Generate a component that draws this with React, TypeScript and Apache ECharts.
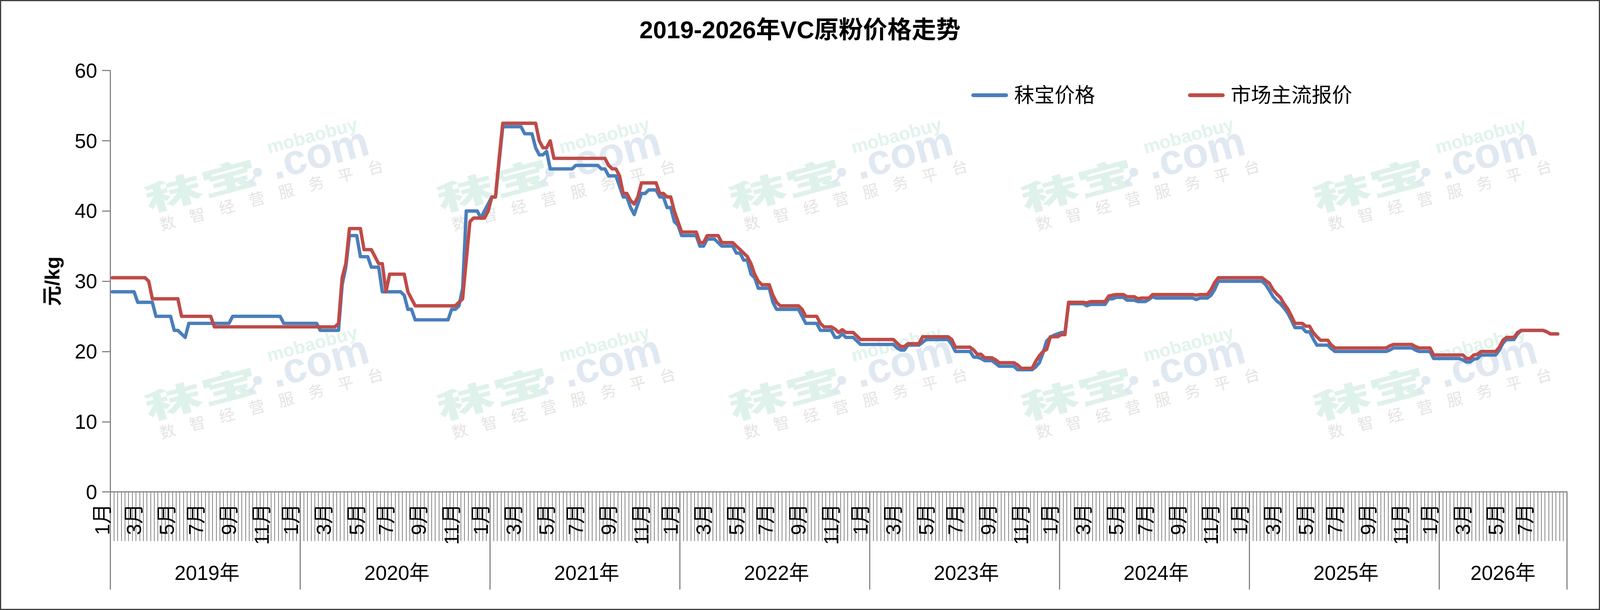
import React, { useEffect, useRef } from 'react';
import * as echarts from 'echarts';

// ---------- data (weekly) ----------
const years = ['2019年', '2020年', '2021年', '2022年', '2023年', '2024年', '2025年', '2026年'];
const weeksPerYear = [52, 52, 52, 52, 52, 52, 52, 35];
const monthLabelWeeks = [6, 15, 23, 32, 41];
const monthLabelNames = ['3月', '5月', '7月', '9月', '11月'];
const janLabelWeek = 49; // "1月" of the following year is shown at this week of the previous year
const janLabel = '1月';
const seriesNames = ['秣宝价格', '市场主流报价'];

const blue2019 = [28.5, 28.5, 28.5, 28.5, 28.5, 28.5, 28.5, 27, 27, 27, 27, 27, 25, 25, 25, 25, 25, 23, 23, 22.5, 22,
  24, 24, 24, 24, 24, 24, 24, 24, 24, 24, 24, 24,
  25, 25, 25, 25, 25, 25, 25, 25, 25, 25, 25, 25, 25, 25,
  24, 24, 24, 24, 24];
const blue2020 = [24, 24, 24, 24, 24, 23, 23, 23, 23, 23, 23, 29.5, 32, 36.5, 36.5, 36.5, 33.5, 33.5, 33.5, 32, 32, 32,
  28.5, 28.5, 28.5, 28.5, 28.5, 28.5, 28, 26, 26,
  24.5, 24.5, 24.5, 24.5, 24.5, 24.5, 24.5, 24.5, 24.5, 24.5,
  26, 26, 26.5, 29, 40, 40, 40, 40, 39, 40, 41];
const blue2021 = [42, 42, 47, 52, 52, 52, 52, 52, 52, 51, 51, 51, 49, 48, 48, 48.5,
  46, 46, 46, 46, 46, 46, 46, 46.5, 46.5, 46.5, 46.5, 46.5, 46.5, 46.5, 46, 46, 45, 45, 45, 43.5, 42, 42,
  40.5, 39.5, 41, 42.5, 42.5, 43, 43, 43, 42, 42, 40.5, 40.5, 38.5, 38];
const blue2022 = [36.5, 36.5, 36.5, 36.5, 36.5, 35, 35, 36, 36, 36, 35.5, 35, 35, 35, 35, 34, 34, 33, 33, 31, 30.5,
  29, 29, 29, 29, 27, 26, 26, 26, 26, 26, 26, 26, 25, 24, 24, 24, 24, 23, 23, 23, 23,
  22, 22, 22.5, 22, 22, 22, 21.5, 21, 21, 21];
const blue2023 = [21, 21, 21, 21, 21, 21, 21, 20.5, 20.2, 20.2, 20.9, 20.9, 20.9, 20.9, 21.3,
  21.7, 21.7, 21.7, 21.7, 21.7, 21.7, 21.7, 21, 20, 20, 20, 20, 20, 19.2, 19.2, 19, 18.7, 18.7, 18.7, 18.3,
  17.9, 17.9, 17.9, 17.9, 17.9, 17.4, 17.4, 17.4, 17.4, 17.4, 17.8, 18.4, 19.8, 21.5, 22, 22.3, 22.5];
const blue2024 = [22.7, 22.7, 26.8, 26.8, 26.8, 26.8, 26.8, 26.5, 26.7, 26.7, 26.7, 26.7, 26.7, 27.5, 27.5,
  27.7, 27.7, 27.7, 27.3, 27.3, 27.3, 27.1, 27.1, 27.1, 27.4, 27.8,
  27.6, 27.6, 27.6, 27.6, 27.6, 27.6, 27.6, 27.6, 27.6, 27.6, 27.6, 27.4, 27.6, 27.6, 27.6, 28, 28.8,
  30, 30, 30, 30, 30, 30, 30, 30, 30];
const blue2025 = [30, 30, 30, 30, 29.5, 28.7, 27.8, 27.2, 26.8, 26.2, 25.5, 24.5, 23.4, 23.4, 23.4, 22.8, 22.8, 21.8,
  20.9, 20.9, 20.9, 20.9, 20.4,
  20, 20, 20, 20, 20, 20, 20, 20, 20, 20, 20, 20, 20, 20, 20,
  20.2, 20.5, 20.5, 20.5, 20.5, 20.5, 20.5, 20.2, 20, 20, 20, 20, 19, 19];
const blue2026 = [19, 19, 19, 19, 19, 19, 18.8, 18.5, 18.5, 18.9, 19, 19.5, 19.5, 19.5, 19.5, 19.5, 20.2, 21.2,
  21.7, 21.7, 21.7, 22.5, 23, 23, 23, 23, 23, 23, 23, 22.8, 22.5, 22.5, 22.5, null, null];

const red2019 = [30.5, 30.5, 30.5, 30.5, 30.5, 30.5, 30.5, 30.5, 30.5, 30.5, 30,
  27.5, 27.5, 27.5, 27.5, 27.5, 27.5, 27.5, 27.5,
  25, 25, 25, 25, 25, 25, 25, 25, 25,
  23.5, 23.5, 23.5, 23.5, 23.5, 23.5, 23.5, 23.5, 23.5, 23.5, 23.5, 23.5,
  23.5, 23.5, 23.5, 23.5, 23.5, 23.5, 23.5, 23.5, 23.5, 23.5, 23.5, 23.5];
const red2020 = [23.5, 23.5, 23.5, 23.5, 23.5, 23.5, 23.5, 23.5, 23.5, 23.5, 24, 30.5, 32.5,
  37.5, 37.5, 37.5, 37.5, 34.5, 34.5, 34.5, 33.5, 32.5, 32.5, 28.5, 31, 31, 31, 31, 31, 28.5, 27.5,
  26.5, 26.5, 26.5, 26.5, 26.5, 26.5, 26.5, 26.5, 26.5, 26.5, 26.5, 26.5,
  27, 27.5, 33, 38.5, 39, 39, 39, 39, 40];
const red2021 = [42, 42, 47.5, 52.5, 52.5, 52.5, 52.5, 52.5, 52.5, 52.5, 52.5, 52.5, 52.5, 50, 49, 49, 50,
  47.5, 47.5, 47.5, 47.5, 47.5, 47.5, 47.5, 47.5, 47.5, 47.5, 47.5, 47.5, 47.5, 47.5, 47.5,
  46.5, 46, 46, 45, 42.5, 42.5, 41.5, 41, 42, 44, 44, 44, 44, 44, 42.5, 42.5, 42, 42, 40, 38.5];
const red2022 = [37, 37, 37, 37, 37, 35.5, 35.5, 36.5, 36.5, 36.5, 36.5, 35.5, 35.5, 35.5, 35.5,
  35, 34.5, 34, 33.5, 32.5, 31, 30, 29.5, 29.5, 29.5, 28, 27, 26.5, 26.5, 26.5, 26.5, 26.5, 26.5, 26,
  25, 25, 25, 25, 24, 23.5, 23.5, 23.5, 23.2, 22.7, 23.1, 22.7, 22.7, 22.7, 22.2, 21.7, 21.7, 21.7];
const red2023 = [21.7, 21.7, 21.7, 21.7, 21.7, 21.7, 21.7, 21.2, 20.7, 20.7, 21.1, 21.1, 21.1, 21.1,
  22.1, 22.1, 22.1, 22.1, 22.1, 22.1, 22.1, 22.1, 21.7, 20.6, 20.6, 20.6, 20.6, 20.6, 20.2, 19.6, 19.6,
  19.1, 19.1, 19.1, 18.8, 18.4, 18.4, 18.4, 18.4, 18.4, 18.1, 17.6, 17.6, 17.6, 17.6,
  18.6, 19.4, 20, 20.3, 22.1, 22.1, 22.1];
const red2024 = [22.4, 22.4, 27, 27, 27, 27, 27, 26.9, 27.1, 27.1, 27.1, 27.1, 27.1, 27.9, 28,
  28.1, 28.1, 28.1, 27.8, 27.8, 27.8, 27.5, 27.6, 27.6, 27.6,
  28.1, 28.1, 28.1, 28.1, 28.1, 28.1, 28.1, 28.1, 28.1, 28.1, 28.1, 28.1, 28, 28.1, 28.1, 28.1, 28.8, 29.8,
  30.5, 30.5, 30.5, 30.5, 30.5, 30.5, 30.5, 30.5, 30.5];
const red2025 = [30.5, 30.5, 30.5, 30.5, 30.1, 29.7, 28.8, 28.2, 27.7, 26.8, 26.1, 25.1, 24, 24, 24, 23.6, 23.6,
  22.7, 22.1, 21.6, 21.6, 21.6, 20.9,
  20.5, 20.5, 20.5, 20.5, 20.5, 20.5, 20.5, 20.5, 20.5, 20.5, 20.5, 20.5, 20.5, 20.5, 20.5,
  20.8, 21, 21, 21, 21, 21, 21, 20.7, 20.5, 20.5, 20.5, 20.5, 19.5, 19.5];
const red2026 = [19.5, 19.5, 19.5, 19.5, 19.5, 19.5, 19.5, 19, 19, 19.5, 19.6, 20, 20, 20, 20, 20, 20.6, 21.6,
  22, 22, 22, 22.7, 23, 23, 23, 23, 23, 23, 23, 22.8, 22.5, 22.5, 22.5, null, null];

const bluePrices = [...blue2019, ...blue2020, ...blue2021, ...blue2022, ...blue2023, ...blue2024, ...blue2025, ...blue2026];
const redPrices = [...red2019, ...red2020, ...red2021, ...red2022, ...red2023, ...red2024, ...red2025, ...red2026];

// ---------- styling (designed for a 4270 x 1562 canvas, scaled to the real one) ----------
const BASE_W = 4270;
const BASE_H = 1562;
const FONT = '"Liberation Sans", Arial, "Noto Sans CJK SC", sans-serif';
const CJK = '"Noto Sans CJK SC", "Liberation Sans", sans-serif';
const GRAY = '#868686';
const BLUE = '#4A7EBB';
const RED = '#BE4B48';

const WM_X = [536, 1315.5, 2095, 2874.5, 3654];
const WM_Y = [470, 1003];
const WM_ROT = (15 * Math.PI) / 180;
const SLOGAN = ['数', '智', '经', '营', '服', '务', '平', '台'];

export default function App() {
  const ref = useRef<HTMLDivElement>(null);

  useEffect(() => {
    document.body.style.margin = '0';
    document.body.style.overflow = 'hidden';
    const el = ref.current as HTMLDivElement;
    const W = el.clientWidth || BASE_W;
    const H = el.clientHeight || BASE_H;
    const sx = W / BASE_W;
    const sy = H / BASE_H;
    const sf = Math.min(sx, sy);
    const X = (v: number) => v * sx;
    const Y = (v: number) => v * sy;
    const F = (v: number) => Math.round(v * sf * 10) / 10;

    const chart = echarts.init(el, null, { renderer: 'svg', width: W, height: H });

    const categories: string[] = [];
    const yearStart: number[] = [];
    years.forEach((y, yi) => {
      yearStart.push(categories.length);
      for (let w = 0; w < weeksPerYear[yi]; w++) categories.push(`${y}第${w + 1}周`);
    });

    const monthLabelAt = new Map<number, string>();
    years.forEach((_, yi) => {
      const base = yearStart[yi];
      monthLabelWeeks.forEach((w, k) => {
        if (w + 9 <= weeksPerYear[yi]) monthLabelAt.set(base + w, monthLabelNames[k]);
      });
      if (yi + 1 < years.length) monthLabelAt.set(base + janLabelWeek, janLabel);
    });
    monthLabelAt.set(0, janLabel);

    const yearLabelAt = new Map<number, string>();
    years.forEach((y, yi) => {
      yearLabelAt.set(yearStart[yi] + Math.floor(weeksPerYear[yi] / 2), y);
    });

    const grid = { left: X(294.5), right: X(88.4), top: Y(180.7), bottom: Y(302.4) };

    const watermark = (cx: number, cy: number) => ({
      type: 'group',
      x: X(cx),
      y: Y(cy),
      rotation: WM_ROT,
      scaleX: sf,
      scaleY: sf,
      silent: true,
      z: 1,
      children: [
        {
          type: 'text', x: 0, y: 0, scaleX: 1.75, z: 1,
          style: { text: '秣宝', fontSize: 88, fontWeight: 900, fontFamily: CJK, fill: '#dff1eb', align: 'center', verticalAlign: 'middle', textAlign: 'center', textVerticalAlign: 'middle' },
        },
        { type: 'line', x: 0, y: 0, z: 1, shape: { x1: 132, y1: 30, x2: 152, y2: 12 }, style: { stroke: '#e0e8f1', lineWidth: 6 } },
        { type: 'circle', x: 0, y: 0, z: 1, shape: { cx: 154, cy: 10, r: 12 }, style: { fill: '#e0e8f1' } },
        { type: 'circle', x: 0, y: 0, z: 1, shape: { cx: 130, cy: 32, r: 8 }, style: { fill: '#e0e8f1' } },
        {
          type: 'text', x: 327, y: 2, z: 1,
          style: { text: '.com', fontSize: 114, fontWeight: 'bold', fontFamily: FONT, fill: '#e0e8f1', align: 'center', verticalAlign: 'middle', textAlign: 'center', textVerticalAlign: 'middle' },
        },
        {
          type: 'text', x: 320, y: -47, z: 1,
          style: { text: 'mobaobuy', fontSize: 49, fontWeight: 'bold', fontFamily: FONT, fill: '#e2f3ed', align: 'center', verticalAlign: 'middle', textAlign: 'center', textVerticalAlign: 'middle' },
        },
        ...SLOGAN.map((ch, k) => ({
          type: 'text', x: 174 + (k - 3.5) * 82, y: 76, z: 1,
          style: { text: ch, fontSize: 42, fontFamily: CJK, fill: '#e4e4e4', align: 'center', verticalAlign: 'middle', textAlign: 'center', textVerticalAlign: 'middle' },
        })),
      ],
    });

    const option: any = {
      animation: false,
      backgroundColor: '#ffffff',
      textStyle: { fontFamily: FONT },
      title: {
        text: '2019-2026年VC原粉价格走势',
        left: 'center',
        top: Y(40),
        textStyle: { fontSize: F(65), fontWeight: 'bold', color: '#000', fontFamily: FONT },
      },
      legend: {
        data: seriesNames,
        left: X(2587),
        top: Y(213),
        itemWidth: X(98),
        itemHeight: Y(10),
        itemGap: X(248),
        icon: 'path://M5,0H93A5,5,0,0,1,93,10H5A5,5,0,0,1,5,0Z',
        textStyle: { fontSize: F(54), color: '#000', fontFamily: FONT, padding: [0, 0, 0, X(11)] },
      },
      grid: [{ ...grid }, { ...grid }, { ...grid }],
      xAxis: [
        {
          type: 'category',
          gridIndex: 0,
          data: categories,
          boundaryGap: true,
          position: 'bottom',
          axisLine: { show: true, lineStyle: { color: GRAY, width: 3 } },
          axisTick: { show: true, interval: 0, length: Y(126), lineStyle: { color: GRAY, width: 2 } },
          axisLabel: {
            interval: (i: number) => monthLabelAt.has(i),
            rotate: 90,
            margin: Y(30),
            fontSize: F(54),
            color: '#000',
            fontFamily: FONT,
            formatter: (_v: string, i: number) => (i === 0 ? `{first|${janLabel}}` : monthLabelAt.get(i) || ''),
            rich: { first: { fontSize: F(54), color: '#000', fontFamily: FONT, padding: [0, 0, X(52), 0] } },
          },
          splitLine: { show: false },
        },
        {
          type: 'category',
          gridIndex: 1,
          data: categories,
          boundaryGap: true,
          position: 'bottom',
          axisLine: { show: false },
          axisTick: { show: false },
          axisLabel: {
            interval: (i: number) => yearLabelAt.has(i),
            formatter: (_v: string, i: number) => yearLabelAt.get(i) || '',
            margin: Y(181),
            fontSize: F(54),
            color: '#000',
            fontFamily: FONT,
          },
          splitLine: { show: false },
        },
        {
          type: 'value',
          gridIndex: 2,
          min: 0,
          max: categories.length,
          interval: 52,
          position: 'bottom',
          axisLine: { show: false },
          axisTick: { show: true, length: Y(250), lineStyle: { color: GRAY, width: 3 } },
          axisLabel: { show: false },
          splitLine: { show: false },
        },
      ],
      yAxis: [
        {
          type: 'value',
          gridIndex: 0,
          min: 0,
          max: 60,
          interval: 10,
          name: '元/kg',
          nameLocation: 'middle',
          nameRotate: 90,
          nameGap: X(128),
          nameTextStyle: { fontSize: F(54), fontWeight: 'bold', color: '#000', fontFamily: FONT },
          axisLine: { show: true, lineStyle: { color: GRAY, width: 3 } },
          axisTick: { show: true, length: X(22), lineStyle: { color: GRAY, width: 3 } },
          axisLabel: { fontSize: F(54), color: '#000', margin: X(35), fontFamily: FONT },
          splitLine: { show: false },
        },
        { type: 'value', gridIndex: 1, show: false, min: 0, max: 60 },
        { type: 'value', gridIndex: 2, show: false, min: 0, max: 60 },
      ],
      series: [
        {
          name: seriesNames[0],
          type: 'line',
          xAxisIndex: 0,
          yAxisIndex: 0,
          data: bluePrices,
          showSymbol: false,
          symbol: 'none',
          z: 3,
          lineStyle: { color: BLUE, width: 9 * sf, cap: 'round', join: 'round' },
          itemStyle: { color: BLUE },
        },
        {
          name: seriesNames[1],
          type: 'line',
          xAxisIndex: 0,
          yAxisIndex: 0,
          data: redPrices,
          showSymbol: false,
          symbol: 'none',
          z: 4,
          lineStyle: { color: RED, width: 9 * sf, cap: 'round', join: 'round' },
          itemStyle: { color: RED },
        },
      ],
      graphic: {
        elements: [
          ...WM_Y.flatMap((wy) => WM_X.map((wx) => watermark(wx, wy))),
          {
            type: 'rect',
            silent: true,
            z: 100,
            shape: { x: 1.5, y: 1.5, width: W - 3, height: H - 3 },
            style: { fill: 'transparent', stroke: '#404040', lineWidth: 3 },
          },
        ],
      },
    };

    chart.setOption(option);
    return () => chart.dispose();
  }, []);

  return <div ref={ref} style={{ width: '100vw', height: '100vh' }} />;
}
